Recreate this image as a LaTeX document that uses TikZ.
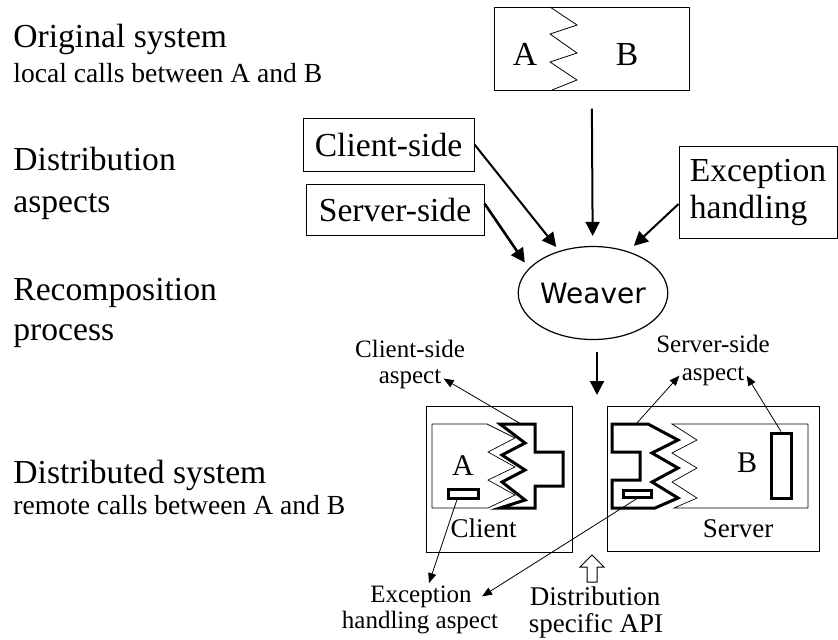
\documentclass[tikz,border=0pt]{standalone}
\usepackage{fontspec}
\setmainfont{Liberation Serif}
\newfontfamily\sansweaver{DejaVu Sans}
\usetikzlibrary{arrows.meta,shapes.geometric}
\begin{document}
\begin{tikzpicture}[x=0.5pt,y=-0.5pt,
  big/.style={font=\fontsize{16.8}{18.5}\selectfont},
  small/.style={font=\fontsize{13.8}{16}\selectfont},
  lbl/.style={font=\fontsize{12.5}{14}\selectfont,inner sep=1pt},
  mid/.style={font=\fontsize{13.5}{15}\selectfont,inner sep=0pt},
  box/.style={draw,line width=0.5pt,inner sep=0pt},
  fat/.style={line width=1.5pt},
  arr/.style={line width=1pt,-{Triangle[length=7pt,width=7pt]}},
  ptr/.style={line width=0.4pt,-{Triangle[length=5pt,width=4pt]}}]
\useasboundingbox (0,0) rectangle (838,639);
\foreach \t/\y in {Original system/47, Distribution/170, aspects/212, Recomposition/300, process/340, Distributed system/483}
  \node[big,anchor=base west,inner sep=0pt] (l\y) at (13,\y) {\t};
\foreach \w/\y in {local/82, remote/514}
  \node[small,anchor=base west,inner sep=0pt] (c\w) at (13,\y) {\w{} calls between A and B};
\node[box,minimum width=97.5pt,minimum height=41.5pt] (orig) at (591.5,48.5) {};
\draw[line width=0.4pt] (550,7) -- (577,25) -- (550,34) -- (577,53) -- (550,62) -- (577,80) -- (552,90);
\node[big,anchor=base] (oa) at (525,65) {A};
\node[big,anchor=base] (ob) at (627,65) {B};
\node[box,big,minimum width=85.5pt,minimum height=26.5pt] (cs) at (388.5,144.5) {Client-side};
\node[box,big,minimum width=89pt,minimum height=25.5pt] (ss) at (395,209.5) {Server-side};
\node[box,big,align=left,minimum width=79pt,minimum height=46pt] (exc) at (758,192) {Exception\\handling};
\node[draw,ellipse,line width=0.6pt,inner sep=0pt,minimum width=67pt,minimum height=46.5pt,
  font=\sansweaver\fontsize{14}{16}\selectfont] (weaver) at (593,293) {Weaver};
\draw[arr,shorten <=9pt,shorten >=5pt] (orig) -- (weaver);
\draw[arr,shorten >=2.5pt] (cs.east) -- (weaver);
\draw[arr,line width=1.3pt,shorten >=3.5pt] ([yshift=3pt]ss.east) -- (weaver.159);
\draw[arr,shorten >=4pt] ([yshift=-6pt]exc.west) -- (weaver.50);
\coordinate (dist) at (597,395);
\draw[arr,shorten <=6pt] ([xshift=2pt]weaver.south) -- (dist);
\node[box,minimum width=73pt,minimum height=73pt] (client) at (499,479) {};
\node[box,minimum width=106pt,minimum height=72.5pt] (server) at (713,478.5) {};
\draw[line width=0.35pt] (432,424) -- (487,424) -- (515,438) -- (488,452) -- (515,467) -- (488,480) -- (515,495) -- (488,508) -- (432,508) -- cycle;
\draw[fat] (500,424) -- (535,424) -- (535,452) -- (563,452) -- (563,486) -- (535,486) -- (535,508) -- (500,508) -- (525,500) -- (502,482) -- (525,470) -- (502,455) -- (525,443) -- cycle;
\draw[line width=0.35pt] (672,424) -- (808,424) -- (808,508) -- (674,508) -- (697,498) -- (672,482) -- (697,468) -- (672,453) -- (697,440) -- cycle;
\draw[fat] (612,424) -- (648,424) -- (678,440) -- (652,453) -- (678,468) -- (652,482) -- (678,498) -- (655,508) -- (612,508) -- (612,480) -- (640,480) -- (640,452) -- (612,452) -- cycle;
\node[draw,fat,minimum width=15pt,minimum height=4.5pt,inner sep=0pt] (cx) at (463,493.5) {};
\node[draw,fat,minimum width=14pt,minimum height=3.5pt,inner sep=0pt] (sx) at (637,493.5) {};
\node[draw,fat,minimum width=10pt,minimum height=32.5pt,inner sep=0pt] (brect) at (781,465.5) {};
\node[font=\fontsize{15}{17}\selectfont,anchor=base] (ca) at (463,475) {A};
\node[font=\fontsize{15}{17}\selectfont,anchor=base] (sb) at (747,472) {B};
\node[mid,anchor=base] (cl) at (483.5,537) {Client};
\node[mid,anchor=base] (sv) at (738,537) {Server};
\node[lbl,anchor=base] (csa) at (410,357) {Client-side};
\node[lbl,anchor=base] (csb) at (410,383) {aspect};
\node[lbl,anchor=base] (ssa) at (713,352) {Server-side};
\node[lbl,anchor=base] (ssb) at (713,380) {aspect};
\node[lbl,anchor=base] (eha) at (421,602) {Exception};
\node[lbl,anchor=base] (ehb) at (420,628) {handling aspect};
\node[mid,anchor=base] (api1) at (595,605) {Distribution};
\node[mid,anchor=base] (api2) at (596,632) {specific API};
\coordinate (ctop) at (521,424);
\coordinate (stop) at (636,424);
\draw[ptr] (ctop) -- (csb.east);
\draw[ptr] (stop) -- (ssb.west);
\draw[ptr] (brect.north) -- (ssb.east);
\draw[ptr] ([xshift=-3pt]cx.south) -- ([xshift=4pt]eha.north);
\draw[ptr] (sx.south) -- ([xshift=4pt]eha.east);
\draw[line width=0.5pt] (587,582) -- (597,582) -- (597,567) -- (604,567) -- (592,555) -- (580,567) -- (587,567) -- cycle;
\end{tikzpicture}
\end{document}
